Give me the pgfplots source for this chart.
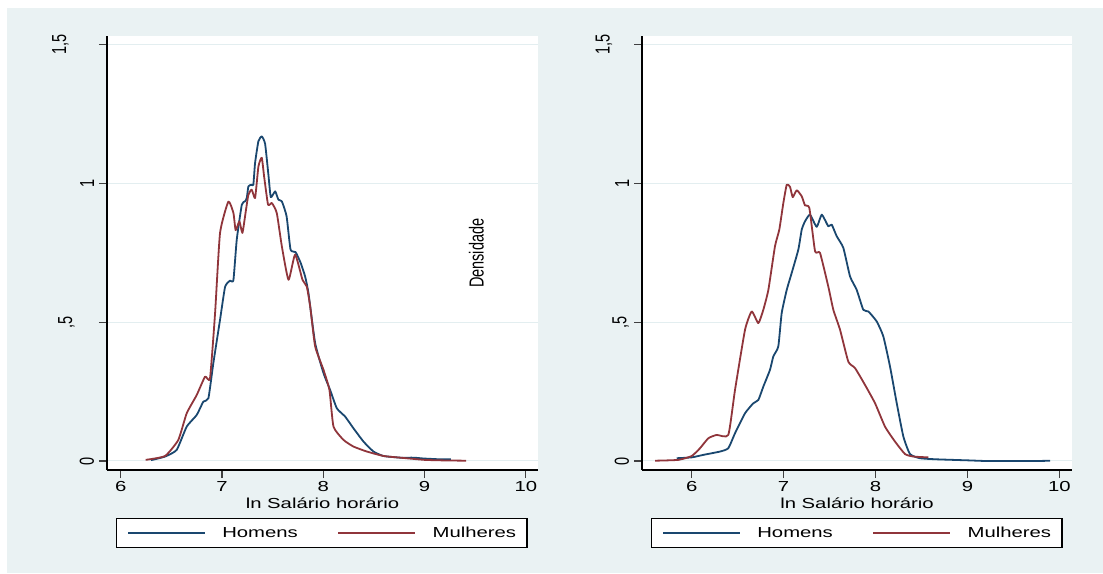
\documentclass[border=0pt]{standalone}
\usepackage{pgfplots}
\pgfplotsset{compat=1.18}
\usepackage{fontspec}
\setmainfont{Liberation Sans}[FakeStretch=1.4]
\newfontfamily\rotfont{Liberation Sans}
\definecolor{bgc}{HTML}{EAF2F3}
\definecolor{gridc}{HTML}{E3EEF0}
\definecolor{navy}{RGB}{26,71,111}
\definecolor{maroon}{RGB}{144,53,59}
\newcommand{\fs}{\fontsize{14.5}{17}\selectfont}

\pgfplotsset{
  statastyle/.style={
    scale only axis, width=431pt, height=434pt, anchor=south west,
    axis lines=left, axis line style={-, black, line width=1.2pt},
    axis background/.style={fill=white},
    ymin=-0.0325, ymax=1.532,
    ytick={0,0.5,1,1.5},
    xtick={6,7,8,9,10}, xticklabels={6,7,8,9,10},
    tick align=outside, major tick length=8pt,
    tick style={black!75, line width=1.2pt},
    ymajorgrids, grid style={gridc, line width=1pt},
    xticklabel style={font=\fs},
    yticklabel style={font=\rotfont\fs, rotate=90, yscale=1.4, anchor=south},
    xlabel={ln Salário horário},
    xlabel style={font=\fs, at={(axis description cs:0.5,0)}, anchor=base, yshift=-38pt},
    legend columns=2,
    legend cell align=left,
    legend image code/.code={\draw[#1, line width=1.2pt, sharp plot] (0pt,0pt) -- (77pt,0pt);},
    legend style={at={(axis description cs:0,0)}, anchor=north west, xshift=9pt, yshift=-48pt,
      draw=black, line width=1.2pt, fill=white, inner xsep=11pt, inner ysep=8.4pt, font=\fs,
      nodes={inner sep=0pt},
      /tikz/every odd column/.append style={column sep=16.5pt},
      /tikz/every even column/.append style={column sep=40pt}},
    every axis plot/.append style={no markers, line width=1.8pt, line join=round, smooth, tension=0.3},
  }
}

\begin{document}
\begin{tikzpicture}
\fill[white] (0pt,0pt) rectangle (1103pt,573pt);
\fill[bgc] (7pt,0pt) rectangle (1103pt,565pt);

\begin{axis}[statastyle, at={(107pt,103pt)}, xmin=5.865, xmax=10.12,
  yticklabels={0,{\raisebox{15.7pt}{,5}},1,{\raisebox{20pt}{1,5}}}]
\addplot[navy] coordinates {
(6.30,0.003)(6.438,0.016)(6.553,0.040)(6.652,0.124)(6.751,0.166)(6.816,0.214)(6.866,0.226)
(6.915,0.353)(6.981,0.509)(7.031,0.628)(7.080,0.650)(7.113,0.652)(7.146,0.798)(7.196,0.924)
(7.228,0.936)(7.245,0.948)(7.261,0.990)(7.294,0.996)(7.310,0.996)(7.327,1.075)(7.360,1.153)
(7.393,1.170)(7.426,1.143)(7.459,1.030)(7.482,0.951)(7.525,0.972)(7.557,0.942)(7.591,0.936)
(7.638,0.882)(7.677,0.762)(7.727,0.753)(7.778,0.713)(7.821,0.665)(7.854,0.605)(7.920,0.425)
(8.002,0.317)(8.068,0.256)(8.134,0.190)(8.216,0.160)(8.298,0.118)(8.397,0.070)(8.496,0.034)
(8.595,0.018)(8.760,0.012)(8.891,0.012)(8.990,0.009)(9.155,0.006)(9.26,0.006)
};
\addlegendentry{Homens}
\addplot[maroon] coordinates {
(6.247,0.004)(6.438,0.018)(6.569,0.076)(6.652,0.172)(6.751,0.238)(6.833,0.304)(6.882,0.298)
(6.932,0.533)(6.981,0.822)(7.063,0.935)(7.113,0.894)(7.135,0.832)(7.172,0.864)(7.202,0.822)
(7.235,0.900)(7.261,0.960)(7.294,0.978)(7.327,0.948)(7.360,1.062)(7.393,1.093)(7.416,1.026)
(7.455,0.924)(7.492,0.930)(7.541,0.894)(7.591,0.774)(7.657,0.653)(7.722,0.744)(7.795,0.653)
(7.837,0.629)(7.871,0.557)(7.920,0.413)(8.002,0.329)(8.061,0.256)(8.101,0.124)(8.200,0.076)
(8.298,0.052)(8.431,0.034)(8.595,0.018)(8.760,0.012)(9.0,0.004)(9.2,0.002)(9.41,0.001)
};
\addlegendentry{Mulheres}
\node[font=\rotfont\fs, rotate=90, yscale=1.4] at (axis cs:9.511,0.749) {Densidade};
\end{axis}

\begin{axis}[statastyle, at={(642pt,103pt)}, width=430pt, xmin=5.459, xmax=10.138,
  yticklabels={0,{\raisebox{2pt}{,5}},1,{\raisebox{13.9pt}{1,5}}}]
\addplot[navy] coordinates {
(5.837,0.010)(6.0,0.013)(6.126,0.022)(6.308,0.034)(6.398,0.046)(6.471,0.100)(6.580,0.172)
(6.670,0.208)(6.725,0.220)(6.779,0.268)(6.852,0.329)(6.888,0.377)(6.942,0.413)(6.979,0.533)
(7.034,0.617)(7.088,0.678)(7.160,0.762)(7.197,0.834)(7.233,0.864)(7.287,0.888)(7.360,0.844)
(7.415,0.888)(7.486,0.846)(7.523,0.852)(7.578,0.810)(7.650,0.768)(7.723,0.665)(7.795,0.617)
(7.867,0.545)(7.922,0.539)(8.013,0.503)(8.085,0.449)(8.158,0.340)(8.231,0.208)(8.303,0.088)
(8.375,0.025)(8.484,0.010)(8.666,0.006)(9.028,0.002)(9.210,0.0)(9.754,0.0)(9.899,0.001)
};
\addlegendentry{Homens}
\addplot[maroon] coordinates {
(5.601,0.001)(5.854,0.004)(6.0,0.018)(6.090,0.046)(6.181,0.082)(6.272,0.094)(6.398,0.094)
(6.471,0.256)(6.580,0.473)(6.653,0.539)(6.725,0.497)(6.779,0.545)(6.834,0.617)(6.906,0.774)
(6.953,0.834)(6.997,0.930)(7.034,0.996)(7.070,0.988)(7.099,0.951)(7.143,0.976)(7.197,0.954)
(7.233,0.921)(7.280,0.912)(7.342,0.756)(7.396,0.750)(7.486,0.629)(7.541,0.545)(7.614,0.473)
(7.704,0.358)(7.777,0.335)(7.886,0.274)(7.995,0.208)(8.103,0.124)(8.212,0.070)(8.321,0.025)
(8.411,0.016)(8.575,0.013)
};
\addlegendentry{Mulheres}
\end{axis}

\pgfresetboundingbox
\path (0pt,0pt) rectangle (1103pt,573pt);
\end{tikzpicture}
\end{document}
